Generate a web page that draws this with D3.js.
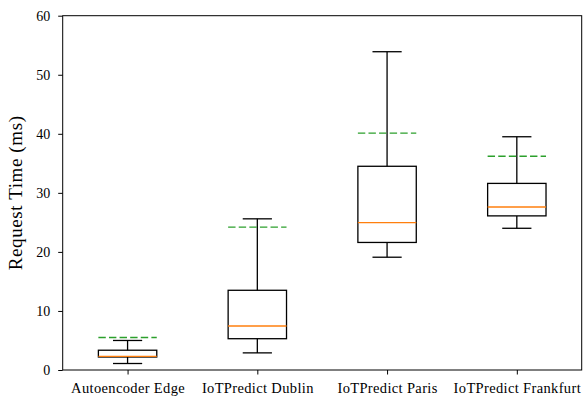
<!DOCTYPE html>
<html>
<head>
<meta charset="utf-8">
<script src="https://cdn.jsdelivr.net/npm/d3@7"></script>
<style>
  body { margin: 0; background: #fff; }
  svg { display: block; }
</style>
</head>
<body>
<svg width="583" height="396"></svg>
<script>
// box plot stats
const categories = ['Autoencoder Edge', 'IoTPredict Dublin', 'IoTPredict Paris', 'IoTPredict Frankfurt'];
const whiskerLow = [1.1, 2.9, 19.1, 24.0];
const q1 = [2.2, 5.3, 21.6, 26.1];
const median = [2.3, 7.45, 24.95, 27.6];
const q3 = [3.35, 13.5, 34.5, 31.6];
const whiskerHigh = [5.0, 25.6, 53.9, 39.5];
const means = [5.5, 24.2, 40.1, 36.2];
const yTicks = [0, 10, 20, 30, 40, 50, 60];

const svg = d3.select('svg');
const font = "'Liberation Serif', 'DejaVu Serif', serif";

const plotLeft = 62.7, plotRight = 581.7, plotTop = 15.7, plotBottom = 370;

const x = d3.scaleLinear().domain([0.5, 4.5]).range([plotLeft, plotRight]);
const y = d3.scaleLinear().domain([0, 60]).range([plotBottom, plotTop]);

const boxW = x(1.45) - x(1);   // 0.45 wide box
const capW = boxW / 2;

const g = svg.append('g');

// boxes
const boxes = g.selectAll('g.box')
  .data(categories)
  .enter()
  .append('g')
  .attr('class', 'box');

// whiskers
boxes.append('line')
  .attr('x1', (d, i) => x(i + 1)).attr('x2', (d, i) => x(i + 1))
  .attr('y1', (d, i) => y(q3[i])).attr('y2', (d, i) => y(whiskerHigh[i]))
  .attr('stroke', '#000').attr('stroke-width', 1.3);
boxes.append('line')
  .attr('x1', (d, i) => x(i + 1)).attr('x2', (d, i) => x(i + 1))
  .attr('y1', (d, i) => y(q1[i])).attr('y2', (d, i) => y(whiskerLow[i]))
  .attr('stroke', '#000').attr('stroke-width', 1.3);
// caps
boxes.append('line')
  .attr('x1', (d, i) => x(i + 1) - capW / 2).attr('x2', (d, i) => x(i + 1) + capW / 2)
  .attr('y1', (d, i) => y(whiskerHigh[i])).attr('y2', (d, i) => y(whiskerHigh[i]))
  .attr('stroke', '#000').attr('stroke-width', 1.3);
boxes.append('line')
  .attr('x1', (d, i) => x(i + 1) - capW / 2).attr('x2', (d, i) => x(i + 1) + capW / 2)
  .attr('y1', (d, i) => y(whiskerLow[i])).attr('y2', (d, i) => y(whiskerLow[i]))
  .attr('stroke', '#000').attr('stroke-width', 1.3);
// box
boxes.append('rect')
  .attr('x', (d, i) => x(i + 1) - boxW / 2)
  .attr('width', boxW)
  .attr('y', (d, i) => y(q3[i]))
  .attr('height', (d, i) => y(q1[i]) - y(q3[i]))
  .attr('fill', 'none').attr('stroke', '#000').attr('stroke-width', 1.3);
// median
boxes.append('line')
  .attr('x1', (d, i) => x(i + 1) - boxW / 2).attr('x2', (d, i) => x(i + 1) + boxW / 2)
  .attr('y1', (d, i) => y(median[i])).attr('y2', (d, i) => y(median[i]))
  .attr('stroke', '#ff7f0e').attr('stroke-width', 1.3);
// mean (dashed)
boxes.append('line')
  .attr('x1', (d, i) => x(i + 1) - boxW / 2).attr('x2', (d, i) => x(i + 1) + boxW / 2)
  .attr('y1', (d, i) => y(means[i])).attr('y2', (d, i) => y(means[i]))
  .attr('stroke', '#2ca02c').attr('stroke-width', 1.3)
  .attr('stroke-dasharray', '7.4,3.2');

// frame
svg.append('rect')
  .attr('x', plotLeft).attr('y', plotTop)
  .attr('width', plotRight - plotLeft).attr('height', plotBottom - plotTop)
  .attr('fill', 'none').attr('stroke', '#000').attr('stroke-width', 1);

// y axis
const yAxis = svg.append('g')
  .attr('transform', `translate(${plotLeft},0)`)
  .call(d3.axisLeft(y).tickValues(yTicks).tickSize(4.5).tickPadding(8));
yAxis.select('.domain').remove();
yAxis.selectAll('text').attr('font-family', font).attr('font-size', 14).attr('fill', '#000');

// x axis
const xAxis = svg.append('g')
  .attr('transform', `translate(0,${plotBottom})`)
  .call(d3.axisBottom(x).tickValues([1, 2, 3, 4]).tickFormat((d) => categories[d - 1]).tickSize(4.5));
xAxis.select('.domain').remove();
xAxis.selectAll('text')
  .attr('y', 22.5).attr('dy', 0)
  .attr('font-family', font).attr('font-size', 14.5)
  .attr('letter-spacing', 0.35).attr('fill', '#000');

// y label
svg.append('text')
  .attr('transform', `translate(22,${(plotTop + plotBottom) / 2}) rotate(-90)`)
  .attr('text-anchor', 'middle')
  .attr('font-family', font)
  .attr('font-size', 19)
  .attr('letter-spacing', 0.6)
  .text('Request Time (ms)');
</script>
</body>
</html>
